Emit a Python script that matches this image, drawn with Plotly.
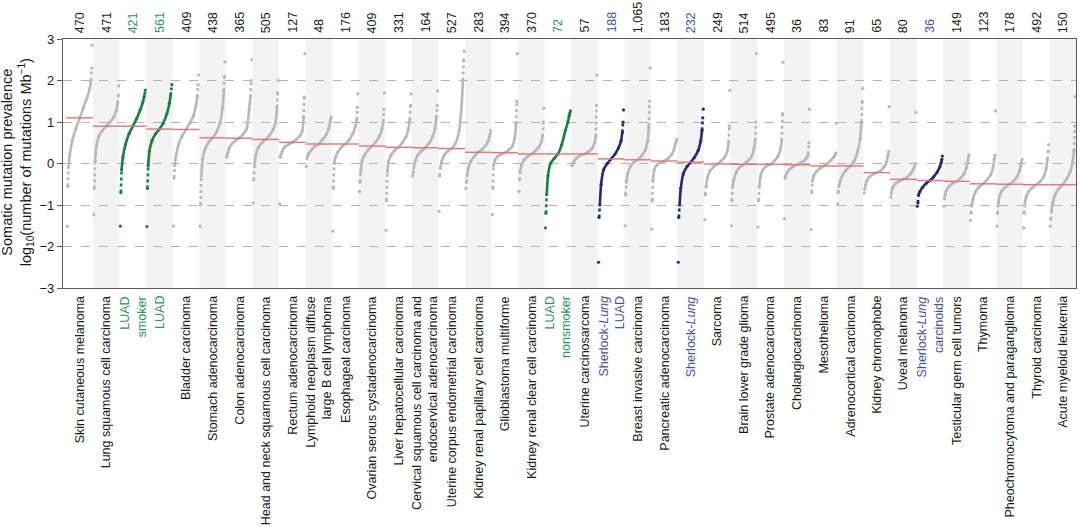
import plotly.graph_objects as go

# Quantile levels (rank fraction within each cohort) at which values were read
QUANTILE_LEVELS = [0, 0.02, 0.05, 0.1, 0.2, 0.35, 0.5, 0.65, 0.8, 0.9, 0.95, 0.98, 1]

CATEGORY_LABELS = [
    "Skin cutaneous melanoma",
    "Lung squamous cell carcinoma",
    "LUAD<br>smoker",
    "LUAD",
    "Bladder carcinoma",
    "Stomach adenocarcinoma",
    "Colon adenocarcinoma",
    "Head and neck squamous cell carcinoma",
    "Rectum adenocarcinoma",
    "Lymphoid neoplasm diffuse<br>large B cell lymphoma",
    "Esophageal carcinoma",
    "Ovarian serous cystadenocarcinoma",
    "Liver hepatocellular carcinoma",
    "Cervical squamous cell carcinoma and<br>endocervical adenocarcinoma",
    "Uterine corpus endometrial carcinoma",
    "Kidney renal papillary cell carcinoma",
    "Glioblastoma multiforme",
    "Kidney renal clear cell carcinoma",
    "LUAD<br>nonsmoker",
    "Uterine carcinosarcoma",
    "Sherlock-<i>Lung</i><br>LUAD",
    "Breast invasive carcinoma",
    "Pancreatic adenocarcinoma",
    "Sherlock-<i>Lung</i>",
    "Sarcoma",
    "Brain lower grade glioma",
    "Prostate adenocarcinoma",
    "Cholangiocarcinoma",
    "Mesothelioma",
    "Adrenocortical carcinoma",
    "Kidney chromophobe",
    "Uveal melanoma",
    "Sherlock-<i>Lung</i><br>carcinoids",
    "Testicular germ cell tumors",
    "Thymoma",
    "Pheochromocytoma and paraganglioma",
    "Thyroid carcinoma",
    "Acute myeloid leukemia",
]

SAMPLE_COUNTS = ["470", "471", "421", "561", "409", "438", "365", "505", "127", "48",
                 "176", "409", "331", "164", "527", "283", "394", "370", "72", "57",
                 "188", "1,065", "183", "232", "249", "514", "495", "36", "83", "91",
                 "65", "80", "36", "149", "123", "178", "492", "150"]

COHORT = ["tcga", "tcga", "luad", "luad", "tcga", "tcga", "tcga", "tcga", "tcga", "tcga",
          "tcga", "tcga", "tcga", "tcga", "tcga", "tcga", "tcga", "tcga", "luad", "tcga",
          "sherlock", "tcga", "tcga", "sherlock", "tcga", "tcga", "tcga", "tcga", "tcga", "tcga",
          "tcga", "tcga", "sherlock", "tcga", "tcga", "tcga", "tcga", "tcga"]

# log10 mutations/Mb at each quantile level, one list per cohort
skin_cutaneous_melanoma = [-1.51, -0.55, -0.1, 0.2, 0.55, 0.85, 1.1, 1.35, 1.6, 1.8, 2.0, 2.3, 2.85]
lung_squamous = [-1.23, -0.6, 0.05, 0.4, 0.65, 0.8, 0.9, 1.0, 1.12, 1.28, 1.45, 1.65, 1.87]
luad_smoker = [-1.51, -0.7, -0.15, 0.15, 0.45, 0.72, 0.9, 1.08, 1.3, 1.48, 1.6, 1.7, 1.77]
luad = [-1.52, -0.6, -0.05, 0.3, 0.55, 0.72, 0.83, 0.97, 1.2, 1.45, 1.65, 1.8, 1.9]
bladder = [-1.51, -0.35, -0.05, 0.2, 0.45, 0.67, 0.82, 0.97, 1.15, 1.4, 1.6, 1.9, 2.13]
stomach = [-1.51, -1.0, -0.3, 0.1, 0.35, 0.52, 0.62, 0.75, 0.98, 1.35, 1.75, 2.1, 2.45]
colon = [0.15, 0.2, 0.27, 0.37, 0.47, 0.55, 0.61, 0.7, 0.83, 1.3, 1.6, 2.0, 2.5]
head_neck = [-0.95, -0.4, -0.05, 0.2, 0.38, 0.5, 0.58, 0.68, 0.82, 1.0, 1.35, 1.7, 2.0]
rectum = [-0.97, 0.15, 0.22, 0.3, 0.4, 0.46, 0.51, 0.58, 0.66, 0.78, 1.1, 1.6, 2.65]
lymphoid_dlbcl = [-0.07, 0.12, 0.18, 0.25, 0.32, 0.42, 0.47, 0.58, 0.7, 0.85, 1.0, 1.08, 1.12]
esophageal = [-1.63, -0.6, 0.0, 0.15, 0.28, 0.4, 0.47, 0.57, 0.72, 0.9, 1.05, 1.35, 1.68]
ovarian = [-0.67, -0.45, -0.2, 0.05, 0.2, 0.33, 0.42, 0.52, 0.66, 0.83, 1.0, 1.3, 1.7]
liver = [-1.61, -0.9, -0.2, 0.05, 0.2, 0.32, 0.39, 0.5, 0.65, 0.85, 1.05, 1.4, 1.68]
cervical = [-0.3, -0.22, -0.1, 0.05, 0.2, 0.3, 0.38, 0.48, 0.65, 0.85, 1.1, 1.4, 1.75]
uterine_corpus = [-1.15, -0.3, -0.1, 0.05, 0.2, 0.3, 0.36, 0.48, 0.8, 1.4, 2.0, 2.5, 2.7]
kidney_papillary = [-0.6, -0.45, -0.3, -0.12, 0.05, 0.18, 0.27, 0.34, 0.44, 0.55, 0.65, 0.72, 0.79]
glioblastoma = [-1.23, -0.6, -0.05, 0.08, 0.16, 0.22, 0.26, 0.32, 0.42, 0.62, 0.95, 1.5, 2.65]
kidney_clear = [-0.67, -0.4, -0.2, -0.05, 0.08, 0.17, 0.23, 0.3, 0.4, 0.52, 0.65, 1.0, 1.33]
luad_nonsmoker = [-1.55, -1.2, -0.75, -0.3, 0.0, 0.12, 0.23, 0.45, 0.8, 1.0, 1.15, 1.22, 1.27]
uterine_carcinosarcoma = [-0.05, -0.03, 0.02, 0.08, 0.14, 0.2, 0.23, 0.28, 0.36, 0.5, 0.65, 1.4, 2.13]
sherlock_luad = [-2.38, -1.3, -1.0, -0.5, -0.15, 0.0, 0.11, 0.22, 0.38, 0.55, 0.75, 1.0, 1.29]
breast = [-1.5, -0.75, -0.45, -0.25, -0.08, 0.03, 0.09, 0.18, 0.32, 0.55, 0.9, 1.5, 2.3]
pancreatic = [-1.58, -0.9, -0.4, -0.15, -0.04, 0.02, 0.06, 0.12, 0.22, 0.36, 0.48, 0.54, 0.58]
sherlock_lung = [-2.38, -1.3, -1.0, -0.6, -0.25, -0.07, 0.03, 0.15, 0.32, 0.55, 0.8, 1.1, 1.31]
sarcoma = [-1.35, -0.75, -0.55, -0.35, -0.18, -0.08, -0.01, 0.06, 0.16, 0.3, 0.5, 0.9, 1.76]
brain_lgg = [-1.5, -0.9, -0.55, -0.38, -0.2, -0.08, -0.02, 0.06, 0.16, 0.35, 0.55, 1.0, 2.65]
prostate = [-1.53, -0.9, -0.55, -0.3, -0.15, -0.06, -0.02, 0.06, 0.18, 0.35, 0.55, 1.2, 2.44]
cholangio = [-1.33, -0.35, -0.3, -0.22, -0.14, -0.07, -0.03, 0.02, 0.08, 0.15, 0.22, 0.5, 1.31]
mesothelioma = [-1.59, -0.7, -0.42, -0.3, -0.2, -0.12, -0.06, 0.0, 0.08, 0.15, 0.2, 0.25, 0.97]
adrenocortical = [-0.97, -0.7, -0.55, -0.42, -0.28, -0.15, -0.06, 0.05, 0.3, 0.6, 1.0, 1.5, 1.81]
kidney_chromophobe = [-0.71, -0.62, -0.52, -0.42, -0.33, -0.26, -0.22, -0.18, -0.08, 0.05, 0.2, 0.3, 1.37]
uveal_melanoma = [-0.81, -0.72, -0.62, -0.55, -0.47, -0.42, -0.38, -0.33, -0.24, -0.14, -0.06, 0.0, 1.23]
sherlock_carcinoids = [-1.03, -0.95, -0.75, -0.68, -0.58, -0.48, -0.41, -0.32, -0.2, -0.08, 0.02, 0.1, 0.18]
testicular = [-1.03, -0.85, -0.75, -0.65, -0.55, -0.48, -0.43, -0.36, -0.25, -0.1, 0.05, 0.15, 0.21]
thymoma = [-1.37, -1.2, -1.0, -0.85, -0.68, -0.56, -0.49, -0.4, -0.28, -0.1, 0.1, 0.2, 1.27]
pheochromocytoma = [-1.51, -1.2, -0.95, -0.78, -0.65, -0.56, -0.5, -0.43, -0.32, -0.18, -0.05, 0.05, 0.1]
thyroid = [-1.55, -1.2, -0.95, -0.8, -0.68, -0.58, -0.51, -0.44, -0.32, -0.12, 0.1, 0.3, 0.45]
acute_myeloid_leukemia = [-1.51, -1.35, -1.15, -0.95, -0.75, -0.6, -0.51, -0.38, -0.2, 0.05, 0.3, 0.9, 1.61]

VALUES = [skin_cutaneous_melanoma, lung_squamous, luad_smoker, luad, bladder, stomach, colon,
          head_neck, rectum, lymphoid_dlbcl, esophageal, ovarian, liver, cervical, uterine_corpus,
          kidney_papillary, glioblastoma, kidney_clear, luad_nonsmoker, uterine_carcinosarcoma,
          sherlock_luad, breast, pancreatic, sherlock_lung, sarcoma, brain_lgg, prostate, cholangio,
          mesothelioma, adrenocortical, kidney_chromophobe, uveal_melanoma, sherlock_carcinoids,
          testicular, thymoma, pheochromocytoma, thyroid, acute_myeloid_leukemia]

POINT_COLOR = {"tcga": "#b9b9b9", "luad": "#13823d", "sherlock": "#212a7e"}
TEXT_COLOR = {"tcga": "#1a1a1a", "luad": "#239a52", "sherlock": "#4651a8"}
MEDIAN_COLOR = "#ef7070"
FONT = "Liberation Sans, Arial, Helvetica, sans-serif"

fig = go.Figure()
n = len(CATEGORY_LABELS)
spread = 0.94
median_idx = QUANTILE_LEVELS.index(0.5)

for cohort in ["tcga", "luad", "sherlock"]:
    cx, cy, tx, ty, mx, my = [], [], [], [], [], []
    for i in range(n):
        if COHORT[i] != cohort:
            continue
        xs = [i - spread / 2 + spread * q for q in QUANTILE_LEVELS]
        ys = VALUES[i]
        # core of the distribution
        cx += xs[2:-2] + [None]
        cy += ys[2:-2] + [None]
        # sparse tails
        tx += xs[1:3] + [None] + xs[-3:-1] + [None]
        ty += ys[1:3] + [None] + ys[-3:-1] + [None]
        mx += xs
        my += ys
    col = POINT_COLOR[cohort]
    fig.add_trace(go.Scatter(x=tx, y=ty, mode="lines", line=dict(color=col, width=2.6, dash="dot"),
                             hoverinfo="skip", showlegend=False))
    fig.add_trace(go.Scatter(x=cx, y=cy, mode="lines", line=dict(color=col, width=2.6, shape="spline", smoothing=0.6),
                             hoverinfo="skip", showlegend=False))
    fig.add_trace(go.Scatter(x=mx, y=my, mode="markers", marker=dict(color=col, size=3.2, line=dict(width=0)),
                             showlegend=False))

# median lines
medx, medy = [], []
for i in range(n):
    m = VALUES[i][median_idx]
    medx += [i - 0.5, i + 0.5, None]
    medy += [m, m, None]
fig.add_trace(go.Scatter(x=medx, y=medy, mode="lines", line=dict(color=MEDIAN_COLOR, width=1.4), showlegend=False))

shapes = []
for i in range(n):
    if i % 2 == 1:
        shapes.append(dict(type="rect", xref="x", yref="paper", x0=i - 0.5, x1=i + 0.5, y0=0, y1=1,
                           fillcolor="#f3f3f3", line=dict(width=0), layer="below"))

annotations = []
for i in range(n):
    annotations.append(dict(x=i, y=1, xref="x", yref="paper", text=SAMPLE_COUNTS[i], textangle=-90,
                            showarrow=False, xanchor="center", yanchor="bottom", yshift=4,
                            font=dict(size=12.5, color=TEXT_COLOR[COHORT[i]], family=FONT)))
    annotations.append(dict(x=i, y=0, xref="x", yref="paper", text=CATEGORY_LABELS[i], textangle=-90,
                            showarrow=False, xanchor="center", yanchor="top", yshift=-6, align="right",
                            font=dict(size=12.5, color=TEXT_COLOR[COHORT[i]], family=FONT)))

annotations.append(dict(x=-0.0454, y=0.505, xref="paper", yref="paper",
                        text="Somatic mutation prevalence<br>log<sub>10</sub>(number of mutations Mb<sup>−1</sup>)",
                        textangle=-90, showarrow=False, xanchor="center", yanchor="middle",
                        font=dict(size=14.5, color="#1a1a1a", family=FONT)))

fig.update_layout(
    width=1080, height=527,
    margin=dict(l=63, r=4, t=39, b=238.5),
    paper_bgcolor="white", plot_bgcolor="white",
    font=dict(family=FONT, color="#1a1a1a"),
    shapes=shapes, annotations=annotations,
    xaxis=dict(range=[-0.63, 37.5], showticklabels=False, showgrid=False, zeroline=False,
               showline=True, mirror=True, linecolor="#5a5a5a", linewidth=1.2, ticks=""),
    yaxis=dict(range=[-3, 3], tickvals=[-3, -2, -1, 0, 1, 2, 3], showgrid=True, gridcolor="#b3b3b3",
               griddash="dash", gridwidth=1, zeroline=False, showline=True, mirror=True,
               linecolor="#5a5a5a", linewidth=1.2, ticks="outside", ticklen=5, tickcolor="#5a5a5a",
               tickfont=dict(size=13, color="#1a1a1a", family=FONT)),
)

fig.write_html("out.html")
